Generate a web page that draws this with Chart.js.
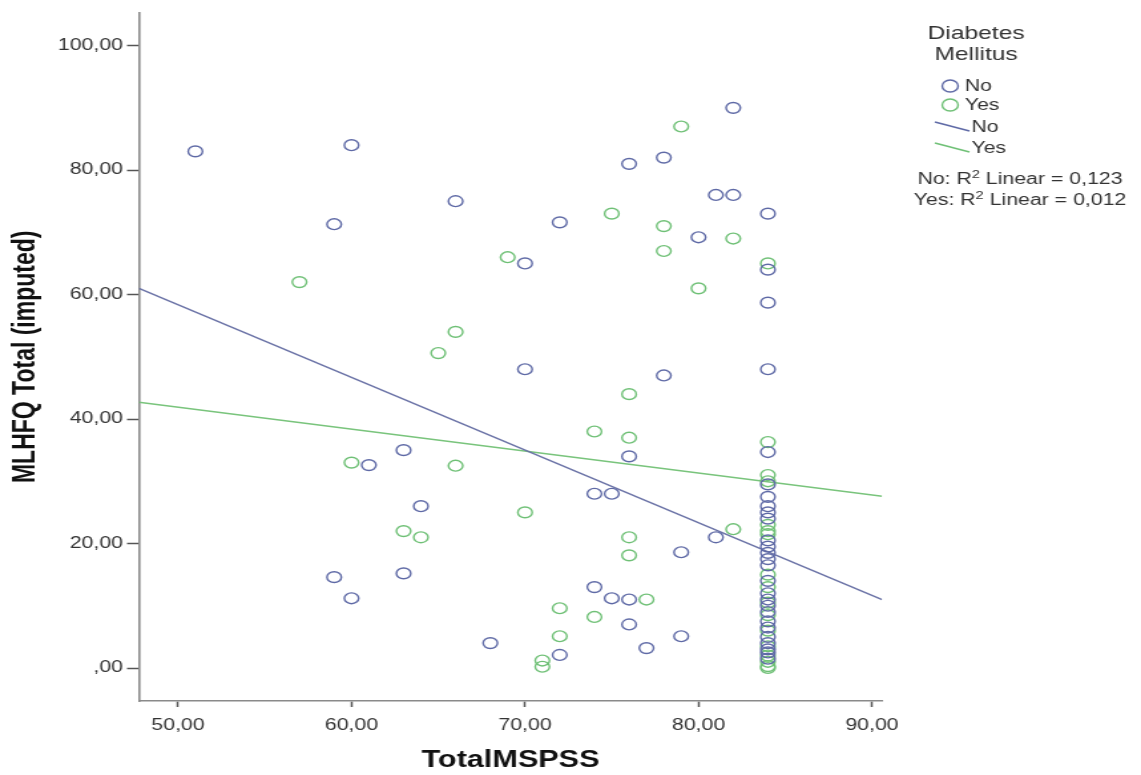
<!DOCTYPE html>
<html><head><meta charset="utf-8">
<script src="https://cdn.jsdelivr.net/npm/chart.js@4.4.1/dist/chart.umd.min.js"></script>
<style>html,body{margin:0;padding:0;background:#fff;overflow:hidden}
#c{display:block}</style>
</head><body>
<canvas id="c" width="858" height="775" style="width:1141px;height:775px"></canvas>
<script>
// ---- data ----
const noX = [51,60,66,59,82,76,78,81,82,84,72,80,70,84,84,70,78,84,63,61,76,84,64,74,75,81,79,59,63,60,74,75,76,76,79,77,72,68,
             84,84,84,84,84,84,84,84,84,84,84,84,84,84,84,84,84,84,84,84,84,84];
const noY = [83,84,75,71.3,90,81,82,76,76,73,71.6,69.2,65,64,58.7,48,47,48,35,32.6,34,34.7,26,28,28,21,18.6,14.6,15.2,11.2,13,11.2,11,7,5.1,3.2,2.1,4,
             29.5,27.5,26,25,24,20.5,19.5,18.5,17.5,16.5,14,12,11,10,9,7.5,6.5,5,4,3,2.5,1.5];
const yesX = [57,69,66,79,75,78,82,78,84,80,65,76,74,76,84,60,66,84,70,82,63,64,76,76,77,72,74,72,71,71,
              84,84,84,84,84,84,84,84,84,84,84,84,84,84];
const yesY = [62,66,54,87,73,71,69,67,65,61,50.6,44,38,37,36.3,33,32.5,31,25,22.3,22,21,21,18.1,11,9.6,8.2,5.1,1.2,0.2,
              30,23,22,21.5,15,13,10.5,8.5,6,3.5,2,1,0.3,0];
const fitX = [47.75, 90.58];
const fitNoY = [61.0, 11.0];
const fitYesY = [42.7, 27.6];
const xTickValues = [50,60,70,80,90];
const xTickLabels = ['50,00','60,00','70,00','80,00','90,00'];
const yTickValues = [0,20,40,60,80,100];
const yTickLabels = [',00','20,00','40,00','60,00','80,00','100,00'];
const groups = ['No','Yes'];
const r2Values = ['0,123','0,012'];

const BLUE = '#5f6aa6', GREEN = '#6fc076';
const FONT = '"Liberation Sans", Arial, sans-serif';
const pts = (xs, ys) => xs.map((x, i) => ({x, y: ys[i]}));

const legendPlugin = {
  id: 'spssLegend',
  afterDraw(chart) {
    const ctx = chart.ctx;
    ctx.save();
    ctx.fillStyle = '#333';
    ctx.textBaseline = 'middle';
    ctx.textAlign = 'center';
    ctx.font = '18.5px ' + FONT;
    ctx.fillText('Diabetes', 734, 34);
    ctx.fillText('Mellitus', 734, 55);
    ctx.textAlign = 'left';
    ctx.font = '16px ' + FONT;
    const cols = [BLUE, GREEN];
    [86, 105].forEach((y, i) => {
      ctx.beginPath();
      ctx.strokeStyle = cols[i];
      ctx.lineWidth = 1.4;
      ctx.arc(714.5, y, 6, 0, Math.PI * 2);
      ctx.stroke();
      ctx.fillText(groups[i], 725.5, y + 1);
    });
    [[122, 131], [143, 152]].forEach((yy, i) => {
      ctx.beginPath();
      ctx.strokeStyle = cols[i];
      ctx.lineWidth = 1.4;
      ctx.moveTo(703, yy[0]);
      ctx.lineTo(729, yy[1]);
      ctx.stroke();
      ctx.fillText(groups[i], 730.5, (yy[0] + yy[1]) / 2 + 1);
    });
    ctx.textBaseline = 'alphabetic';
    [184, 205].forEach((base, i) => {
      const a = groups[i] + ': R', s = '2', b = ' Linear = ' + r2Values[i];
      ctx.font = '16px ' + FONT; const wa = ctx.measureText(a).width, wb = ctx.measureText(b).width;
      ctx.font = '11px ' + FONT; const ws = ctx.measureText(s).width;
      let x = 767 - (wa + ws + wb) / 2;
      ctx.font = '16px ' + FONT; ctx.fillText(a, x, base); x += wa;
      ctx.font = '11px ' + FONT; ctx.fillText(s, x, base - 6); x += ws;
      ctx.font = '16px ' + FONT; ctx.fillText(b, x, base);
    });
    ctx.restore();
  }
};

new Chart(document.getElementById('c'), {
  type: 'scatter',
  data: {
    datasets: [
      { label: 'No', data: pts(noX, noY), pointStyle: 'circle', pointRadius: 5.4, pointBorderWidth: 1.4,
        borderColor: BLUE, backgroundColor: 'rgba(0,0,0,0)', pointHoverRadius: 5.4 },
      { label: 'Yes', data: pts(yesX, yesY), pointStyle: 'circle', pointRadius: 5.4, pointBorderWidth: 1.4,
        borderColor: GREEN, backgroundColor: 'rgba(0,0,0,0)', pointHoverRadius: 5.4 },
      { label: 'No fit', type: 'line', data: pts(fitX, fitNoY), showLine: true, pointRadius: 0,
        borderColor: '#6a72a6', borderWidth: 1.4, fill: false },
      { label: 'Yes fit', type: 'line', data: pts(fitX, fitYesY), showLine: true, pointRadius: 0,
        borderColor: '#79c47c', borderWidth: 1.4, fill: false }
    ]
  },
  options: {
    responsive: false,
    devicePixelRatio: 1,
    animation: false,
    events: [],
    layout: { padding: { top: 12, right: 858 - 663.3, bottom: 0, left: 0 } },
    plugins: { legend: { display: false }, tooltip: { enabled: false } },
    scales: {
      x: {
        type: 'linear', min: 47.75, max: 90.58,
        afterBuildTicks: s => { s.ticks = xTickValues.map(v => ({ value: v })); },
        afterFit: s => { s.height = 74; },
        ticks: { callback: v => xTickLabels[xTickValues.indexOf(v)], font: { family: FONT, size: 16 },
                 color: '#333', padding: 9, maxRotation: 0, autoSkip: false },
        grid: { display: true, drawOnChartArea: false, drawTicks: true, tickLength: 6, tickWidth: 1.5, tickColor: '#555' },
        border: { display: true, color: '#8a8a8a', width: 1.6 },
        title: { display: true, text: 'TotalMSPSS', font: { family: FONT, size: 23, weight: 'bold' }, color: '#111',
                 padding: { top: 0, bottom: 1 } }
      },
      y: {
        type: 'linear', min: -5.3, max: 105.3,
        afterBuildTicks: s => { s.ticks = yTickValues.map(v => ({ value: v })); },
        afterFit: s => { s.width = 104.5; },
        ticks: { callback: v => yTickLabels[yTickValues.indexOf(v)], font: { family: FONT, size: 16 },
                 color: '#333', padding: 3, autoSkip: false },
        grid: { display: true, drawOnChartArea: false, drawTicks: true, tickLength: 9, tickWidth: 1.5, tickColor: '#555' },
        border: { display: true, color: '#8a8a8a', width: 1.6 },
        title: { display: true, text: 'MLHFQ Total (imputed)', font: { family: FONT, size: 23, weight: 'bold' }, color: '#111',
                 padding: { top: 6, bottom: 0 } }
      }
    }
  },
  plugins: [legendPlugin]
});
</script>
</body></html>
